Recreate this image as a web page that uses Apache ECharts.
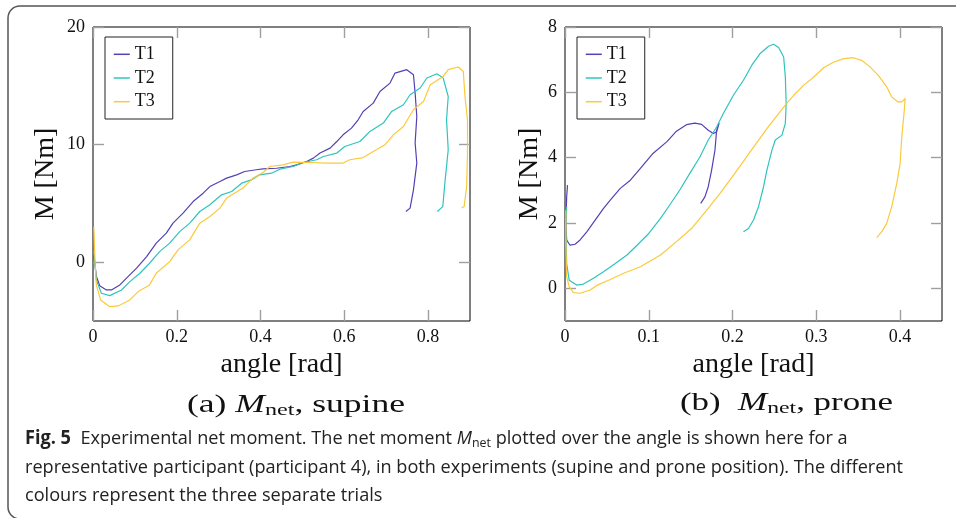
<!DOCTYPE html>
<html><head><meta charset="utf-8">
<script src="https://cdn.jsdelivr.net/npm/echarts@6/dist/echarts.min.js"></script>
<style>html,body{margin:0;padding:0;background:#fff}#c{width:956px;height:518px}</style>
</head><body><div id="c"></div>
<script>
// ---- tick labels ----
const xTicksA = [0, 0.2, 0.4, 0.6, 0.8];
const yTicksA = [0, 10, 20];
const xTicksB = [0, 0.1, 0.2, 0.3, 0.4];
const yTicksB = [0, 2, 4, 6, 8];
const trialNames = ['T1', 'T2', 'T3'];

// ---- (a) supine: [angle rad, moment Nm] ----
const supineT1 = [[0.002,0.6],[0.008,-1.2],[0.016,-2.0],[0.032,-2.36],[0.044,-2.36],[0.064,-1.93],[0.080,-1.36],[0.104,-0.51],[0.128,0.48],[0.151,1.62],[0.175,2.47],[0.191,3.32],[0.215,4.17],[0.239,5.16],[0.263,5.87],[0.279,6.43],[0.303,6.86],[0.319,7.15],[0.343,7.43],[0.362,7.71],[0.390,7.86],[0.406,7.94],[0.438,7.99],[0.470,8.14],[0.486,8.28],[0.510,8.56],[0.526,8.85],[0.542,9.28],[0.566,9.70],[0.582,10.26],[0.597,10.83],[0.617,11.40],[0.633,12.11],[0.645,12.82],[0.669,13.53],[0.685,14.52],[0.709,15.23],[0.721,16.08],[0.749,16.37],[0.765,15.94],[0.769,14.38],[0.773,12.39],[0.769,10.13],[0.773,8.43],[0.765,6.15],[0.757,4.60],[0.747,4.31]];
const supineT2 = [[0.002,1.0],[0.008,-1.5],[0.020,-2.64],[0.040,-2.84],[0.068,-2.36],[0.088,-1.65],[0.112,-0.94],[0.135,-0.09],[0.159,0.90],[0.183,1.62],[0.207,2.60],[0.231,3.32],[0.255,4.31],[0.279,4.88],[0.307,5.73],[0.331,6.01],[0.355,6.72],[0.378,7.00],[0.398,7.43],[0.426,7.57],[0.446,7.91],[0.478,8.14],[0.502,8.48],[0.534,8.71],[0.550,8.99],[0.582,9.28],[0.601,9.84],[0.637,10.26],[0.661,11.12],[0.693,11.83],[0.713,12.82],[0.741,13.39],[0.757,14.24],[0.781,14.81],[0.797,15.66],[0.821,16.02],[0.836,15.66],[0.848,14.09],[0.844,12.11],[0.848,9.56],[0.840,6.72],[0.835,4.73],[0.822,4.31]];
const supineT3 = [[0.002,3.0],[0.005,-0.09],[0.008,-1.93],[0.018,-3.21],[0.040,-3.78],[0.060,-3.72],[0.088,-3.21],[0.108,-2.50],[0.135,-1.93],[0.151,-0.94],[0.183,0.05],[0.203,1.05],[0.231,1.90],[0.255,3.32],[0.279,3.88],[0.303,4.60],[0.319,5.45],[0.358,6.30],[0.382,7.15],[0.406,7.63],[0.422,8.14],[0.454,8.28],[0.478,8.51],[0.518,8.48],[0.558,8.43],[0.597,8.43],[0.613,8.71],[0.645,8.90],[0.669,9.41],[0.697,9.98],[0.717,10.83],[0.741,11.54],[0.765,12.96],[0.789,13.67],[0.805,15.09],[0.836,15.80],[0.848,16.37],[0.872,16.60],[0.884,16.22],[0.888,14.09],[0.894,12.11],[0.894,9.28],[0.892,6.43],[0.886,4.73],[0.880,4.60]];

// ---- (b) prone ----
const proneT1 = [[0.003,3.16],[0.002,2.80],[0.001,1.99],[0.002,1.48],[0.006,1.32],[0.012,1.35],[0.018,1.48],[0.026,1.73],[0.036,2.09],[0.046,2.45],[0.054,2.70],[0.066,3.06],[0.078,3.31],[0.090,3.67],[0.105,4.13],[0.122,4.50],[0.133,4.81],[0.145,5.01],[0.155,5.06],[0.163,5.02],[0.171,4.84],[0.177,4.74],[0.181,4.79],[0.184,5.06],[0.181,4.84],[0.179,4.23],[0.175,3.62],[0.171,3.11],[0.167,2.80],[0.162,2.60]];
const proneT2 = [[0.002,2.50],[0.001,1.88],[0.002,0.76],[0.005,0.25],[0.014,0.10],[0.022,0.13],[0.034,0.31],[0.046,0.51],[0.060,0.76],[0.074,1.02],[0.086,1.32],[0.100,1.68],[0.114,2.14],[0.125,2.55],[0.137,3.01],[0.149,3.52],[0.161,4.02],[0.171,4.54],[0.181,4.94],[0.189,5.35],[0.201,5.91],[0.213,6.37],[0.223,6.83],[0.233,7.19],[0.243,7.41],[0.249,7.47],[0.255,7.37],[0.261,7.08],[0.263,6.47],[0.264,5.66],[0.263,5.05],[0.259,4.69],[0.251,4.54],[0.247,4.23],[0.241,3.62],[0.237,3.11],[0.231,2.50],[0.225,2.09],[0.219,1.83],[0.213,1.73]];
const proneT3 = [[0.001,2.39],[0.001,1.38],[0.002,0.35],[0.005,0.05],[0.010,-0.13],[0.018,-0.15],[0.030,-0.05],[0.038,0.09],[0.054,0.27],[0.070,0.46],[0.090,0.66],[0.114,1.02],[0.133,1.43],[0.151,1.83],[0.169,2.39],[0.185,2.91],[0.201,3.46],[0.221,4.18],[0.241,4.89],[0.261,5.55],[0.273,5.91],[0.285,6.22],[0.297,6.47],[0.309,6.76],[0.321,6.93],[0.333,7.03],[0.344,7.06],[0.354,6.98],[0.364,6.78],[0.374,6.52],[0.384,6.17],[0.390,5.86],[0.397,5.71],[0.402,5.71],[0.406,5.81],[0.405,5.45],[0.402,4.64],[0.400,3.82],[0.396,3.21],[0.390,2.50],[0.384,1.99],[0.378,1.73],[0.372,1.55]];

const colors = ['#5440b4', '#2ec4be', '#fbc93a'];
const SERIF = '"Liberation Serif", "DejaVu Serif", serif';
const SANS = '"Open Sans", "Noto Sans", sans-serif';

function measure(font, text) {
  const c = document.createElement('canvas').getContext('2d');
  c.font = font; return c.measureText(text).width;
}

const captionLines = [
  'Fig. 5  Experimental net moment. The net moment Mnet plotted over the angle is shown here for a',
  'representative participant (participant 4), in both experiments (supine and prone position). The different',
  'colours represent the three separate trials'
];
const capScale = 878 / measure('19px ' + SANS, captionLines[1]);

function makeGrid(left) { return { left: left, top: 27, width: 377, height: 294, show: true, borderColor: '#000', borderWidth: 1, backgroundColor: 'transparent' }; }
const tickStyle = { color: '#9f9f9f', width: 1.4 };
function xAx(grid, max, ticks, pos, main) {
  return {
    type: 'value', gridIndex: grid, min: 0, max: max, position: pos,
    name: main ? 'angle [rad]' : '', nameLocation: 'middle', nameGap: 29,
    nameTextStyle: { fontFamily: SERIF, fontSize: 28, color: '#111' },
    axisLine: { show: false, onZero: false }, splitLine: { show: false },
    axisTick: { show: true, inside: true, length: 11, customValues: ticks, lineStyle: tickStyle },
    axisLabel: { show: main, customValues: ticks, margin: 7, fontFamily: SERIF, fontSize: 18, color: '#111' }
  };
}
function yAx(grid, min, max, ticks, pos, main, gap) {
  return {
    type: 'value', gridIndex: grid, min: min, max: max, position: pos,
    name: main ? 'M [Nm]' : '', nameLocation: 'middle', nameGap: gap, nameRotate: 90,
    nameTextStyle: { fontFamily: SERIF, fontSize: 28, color: '#111' },
    axisLine: { show: false, onZero: false }, splitLine: { show: false },
    axisTick: { show: true, inside: true, length: 11, customValues: ticks, lineStyle: tickStyle },
    axisLabel: { show: main, customValues: ticks, margin: 8, fontFamily: SERIF, fontSize: 18, color: '#111' }
  };
}
function legend(left) {
  return {
    data: trialNames, orient: 'vertical', left: left, top: 37, itemWidth: 16, itemHeight: 12, itemGap: 5.7,
    padding: [8.3, 18, 8.3, 8], itemTextGap: 6, borderColor: '#222', borderWidth: 1, backgroundColor: '#fff',
    itemStyle: { opacity: 0 }, lineStyle: { width: 1.5 },
    textStyle: { fontFamily: SERIF, fontSize: 18, lineHeight: 18, color: '#111' }, selectedMode: false
  };
}
function ser(name, data, xi, yi, ci) {
  return { name: name, type: 'line', data: data, xAxisIndex: xi, yAxisIndex: yi, symbol: 'none', showSymbol: false,
    lineStyle: { color: colors[ci], width: 1.2 }, itemStyle: { color: colors[ci] }, animation: false, silent: true };
}

const subA = ['(a) ', 'M', 'net', ', supine'];
const subB = ['(b)  ', 'M', 'net', ', prone'];
function subWidth(parts) {
  return measure('25px ' + SERIF, parts[0]) + measure('italic 25px ' + SERIF, parts[1]) + measure('17px ' + SERIF, parts[2]) + measure('25px ' + SERIF, parts[3]);
}
const subRich = {
  r: { fontFamily: SERIF, fontSize: 25, fill: '#111' },
  i: { fontFamily: SERIF, fontSize: 25, fontStyle: 'italic', fill: '#111' },
  s: { fontFamily: SERIF, fontSize: 17, fill: '#111', padding: [12, 0, 0, 0] }
};
function subText(parts, x, y, target) {
  const sc = target / subWidth(parts);
  return { type: 'text', x: x, y: y, scaleX: sc, style: { text: '{r|' + parts[0] + '}{i|' + parts[1] + '}{s|' + parts[2] + '}{r|' + parts[3] + '}', rich: subRich, verticalAlign: 'middle' } };
}
const capRich = {
  n: { fontFamily: SANS, fontSize: 19, fill: '#222' },
  b: { fontFamily: SANS, fontSize: 19, fontWeight: 'bold', fill: '#222' },
  i: { fontFamily: SANS, fontSize: 19, fontStyle: 'italic', fill: '#222' },
  s: { fontFamily: SANS, fontSize: 13, fill: '#222', padding: [8, 0, 0, 0] }
};
function capLine(str, y) {
  return { type: 'text', x: 25, y: y, scaleX: capScale, style: { text: str, rich: capRich, verticalAlign: 'middle' } };
}

const chart = echarts.init(document.getElementById('c'), null, { renderer: 'canvas' });
chart.setOption({
  animation: false,
  grid: [makeGrid(93), makeGrid(565)],
  xAxis: [xAx(0, 0.9, xTicksA, 'bottom', true), xAx(0, 0.9, xTicksA, 'top', false), xAx(1, 0.45, xTicksB, 'bottom', true), xAx(1, 0.45, xTicksB, 'top', false)],
  yAxis: [yAx(0, -5, 20, yTicksA, 'left', true, 33), yAx(0, -5, 20, yTicksA, 'right', false, 0), yAx(1, -1, 8, yTicksB, 'left', true, 20), yAx(1, -1, 8, yTicksB, 'right', false, 0)],
  legend: [legend(105), legend(577)],
  series: [
    ser('T1', supineT1, 0, 0, 0), ser('T2', supineT2, 0, 0, 1), ser('T3', supineT3, 0, 0, 2),
    ser('T1', proneT1, 2, 2, 0), ser('T2', proneT2, 2, 2, 1), ser('T3', proneT3, 2, 2, 2)
  ],
  graphic: [
    { type: 'rect', shape: { x: 8, y: 6, width: 1000, height: 513, r: 12 }, style: { fill: 'none', stroke: '#555', lineWidth: 1.5 }, silent: true },
    subText(subA, 187, 405, 218),
    subText(subB, 680, 403, 213),
    capLine('{b|Fig. 5}{n|  Experimental net moment. The net moment }{i|M}{s|net}{n| plotted over the angle is shown here for a}', 439),
    capLine('{n|' + captionLines[1] + '}', 468),
    capLine('{n|' + captionLines[2] + '}', 496)
  ]
});
</script></body></html>
